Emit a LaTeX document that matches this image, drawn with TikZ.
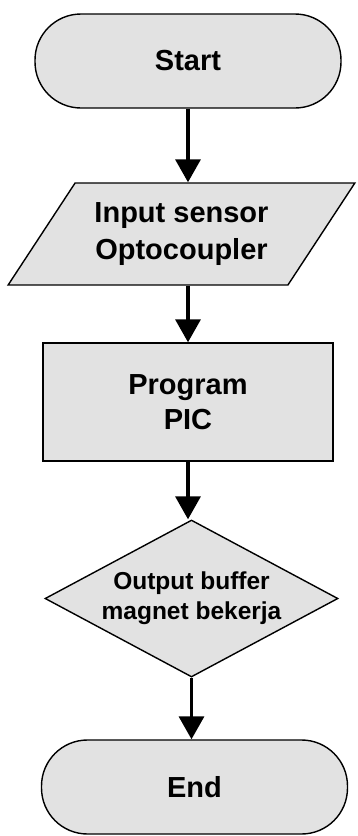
\documentclass[tikz,border=0pt]{standalone}
\usepackage{fontspec}
\setmainfont{Liberation Sans}
\usepackage{tikz}
\usetikzlibrary{shapes.geometric,arrows.meta}
\definecolor{boxfill}{RGB}{226,226,226}
\tikzset{
  term/.style={rectangle,rounded corners=46pt,draw=black,line width=1.4pt,fill=boxfill,minimum width=306pt,minimum height=94pt,inner sep=0pt,font=\fontsize{29}{36}\selectfont\bfseries},
  io/.style={trapezium,trapezium left angle=49,trapezium right angle=131,trapezium stretches=true,draw=black,line width=1.4pt,fill=boxfill,minimum width=347pt,minimum height=102pt,inner sep=0pt,align=center,font=\fontsize{29}{37}\selectfont\bfseries},
  proc/.style={rectangle,draw=black,line width=1.4pt,fill=boxfill,minimum width=290pt,minimum height=118pt,inner sep=0pt,align=center,font=\fontsize{29}{35}\selectfont\bfseries},
  dec/.style={diamond,aspect=1.87,draw=black,line width=1.4pt,fill=boxfill,minimum width=293pt,minimum height=157pt,inner sep=0pt,align=center,font=\fontsize{24.5}{30}\selectfont\bfseries},
  flow/.style={-{Triangle[length=23pt,width=25pt]},line width=3.5pt},
}

\begin{document}
\begin{tikzpicture}[x=1pt,y=-1pt]
  \useasboundingbox (0,0) rectangle (357,836);
  % flowchart blocks
  \node[term] (start) at (188,61) {Start};
  \node[io] (sensor) at (181.5,234) {Input sensor\\Optocoupler};
  \node[proc] (pic) at (188,402) {Program\\PIC};
  \node[dec] (buffer) at (191.5,598.5) {Output buffer\\magnet bekerja};
  \node[term] (end) at (194.5,787) {End};
  % arrows
  \draw[flow] (start.south) -- (start.south |- sensor.north);
  \draw[flow] (sensor.south -| pic.north) -- (pic.north);
  \draw[flow] (pic.south) -- (pic.south |- buffer.north);
  \draw[flow] (buffer.south) -- (buffer.south |- end.north);
\end{tikzpicture}
\end{document}
